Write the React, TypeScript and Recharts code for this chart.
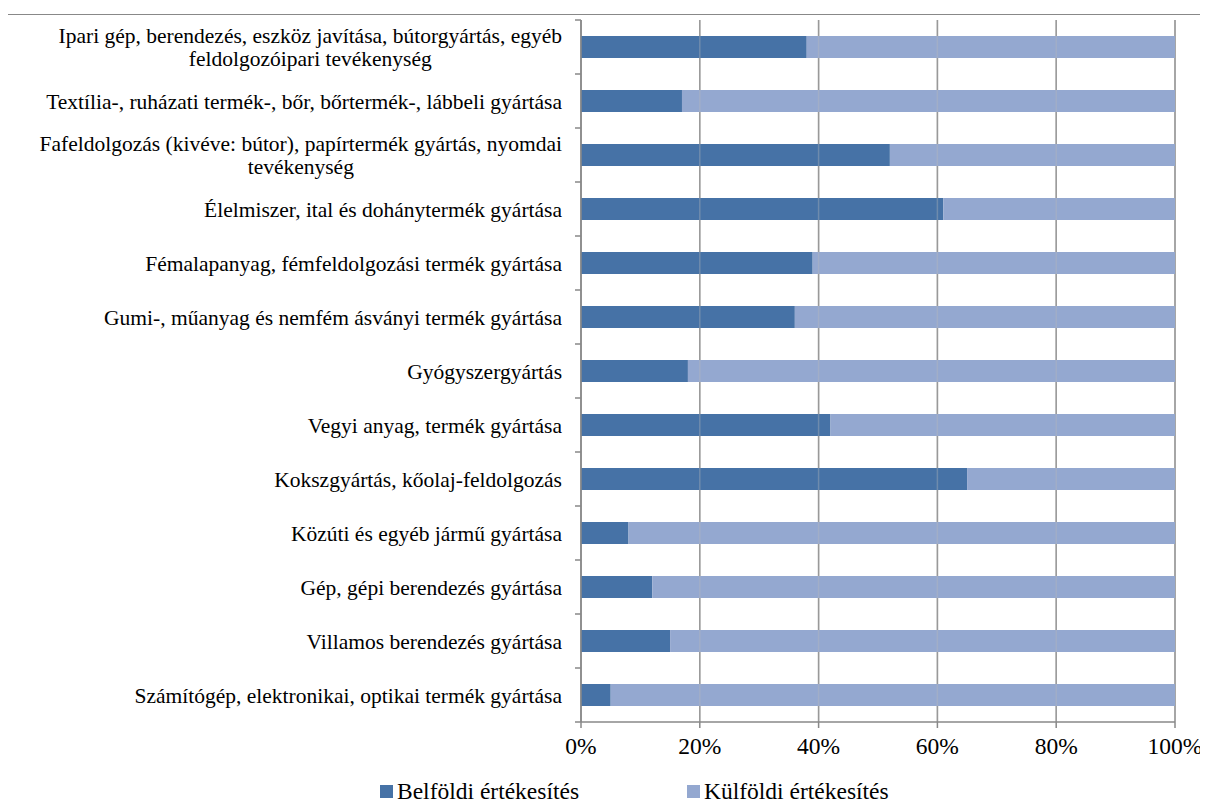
import React from 'react';
import { BarChart, Bar, XAxis, YAxis, CartesianGrid, ReferenceLine } from 'recharts';

const categories = [
  'Ipari gép, berendezés, eszköz javítása, bútorgyártás, egyéb\nfeldolgozóipari tevékenység',
  'Textília-, ruházati termék-, bőr, bőrtermék-, lábbeli gyártása',
  'Fafeldolgozás (kivéve: bútor), papírtermék gyártás, nyomdai\ntevékenység',
  'Élelmiszer, ital és dohánytermék gyártása',
  'Fémalapanyag, fémfeldolgozási termék gyártása',
  'Gumi-, műanyag és nemfém ásványi termék gyártása',
  'Gyógyszergyártás',
  'Vegyi anyag, termék gyártása',
  'Kokszgyártás, kőolaj-feldolgozás',
  'Közúti és egyéb jármű gyártása',
  'Gép, gépi berendezés gyártása',
  'Villamos berendezés gyártása',
  'Számítógép, elektronikai, optikai termék gyártása',
];

const belfoldi = [38, 17, 52, 61, 39, 36, 18, 42, 65, 8, 12, 15, 5];
const kulfoldi = [62, 83, 48, 39, 61, 64, 82, 58, 35, 92, 88, 85, 95];

const xTicks = [0, 0.2, 0.4, 0.6, 0.8, 1];

const seriesNames = ['Belföldi értékesítés', 'Külföldi értékesítés'];
const seriesColors = ['#4672A6', '#94A8D0'];

const data = categories.map((name, i) => ({ name, belfoldi: belfoldi[i], kulfoldi: kulfoldi[i] }));

const FONT = '"Liberation Serif", "Times New Roman", serif';
const LABEL_SIZE = 21.5;
const CHART_W = 1208;
const CHART_H = 811;
const TOP = 20;
const AXIS_Y = 722;
const band = (AXIS_Y - TOP) / categories.length;

let ctx: CanvasRenderingContext2D | null = null;
const measure = (s: string) => {
  if (!ctx) ctx = document.createElement('canvas').getContext('2d');
  if (!ctx) return s.length * 9;
  ctx.font = `${LABEL_SIZE}px ${FONT}`;
  return ctx.measureText(s).width;
};

const CategoryTick = (props: any) => {
  const { x, y, payload, index } = props;
  const lines: string[] = String(payload.value).split('\n');
  const right = x - 19;
  const center = right - measure(lines[0]) / 2;
  const lh = 23;
  const y0 = y - ((lines.length - 1) * lh) / 2;
  return (
    <g>
      <line x1={x - 6} x2={x} y1={y - band / 2} y2={y - band / 2} stroke="#888" strokeWidth={1.5} />
      {index === categories.length - 1 && (
        <line x1={x - 6} x2={x} y1={y + band / 2} y2={y + band / 2} stroke="#888" strokeWidth={1.5} />
      )}
      {lines.map((l, i) => (
        <text
          key={i}
          x={lines.length > 1 ? center : right}
          y={y0 + i * lh}
          dy="0.35em"
          textAnchor={lines.length > 1 ? 'middle' : 'end'}
          fontFamily={FONT}
          fontSize={LABEL_SIZE}
          fill="#000"
        >
          {l}
        </text>
      ))}
    </g>
  );
};

export default function App() {
  return (
    <div style={{ position: 'relative', margin: -8, width: CHART_W, height: CHART_H, overflow: 'hidden', background: '#fff' }}>
      <div
        style={{
          position: 'absolute',
          left: 7,
          top: 14,
          width: 1300,
          height: 900,
          border: '1px solid #888',
          boxSizing: 'border-box',
        }}
      />
      <div style={{ position: 'absolute', left: 0, top: 0 }}>
        <BarChart
          width={CHART_W}
          height={CHART_H}
          data={data}
          layout="vertical"
          stackOffset="expand"
          barSize={22}
          margin={{ top: TOP, right: 33, bottom: 0, left: 0 }}
        >
          <CartesianGrid horizontal={false} vertical stroke="#888" strokeWidth={1.5} />
          <XAxis
            type="number"
            domain={[0, 1]}
            ticks={xTicks}
            tickFormatter={(v: number) => `${Math.round(v * 100)}%`}
            height={CHART_H - AXIS_Y}
            stroke="#888"
            strokeWidth={1.5}
            tickSize={6}
            tickMargin={9}
            tick={{ fill: '#000', fontFamily: FONT, fontSize: 23.5 }}
          />
          <YAxis
            type="category"
            dataKey="name"
            width={581}
            stroke="#888"
            strokeWidth={1.5}
            tickLine={false}
            tickSize={0}
            tickMargin={0}
            interval={0}
            tick={<CategoryTick />}
          />
          <Bar dataKey="belfoldi" stackId="a" fill={seriesColors[0]} name={seriesNames[0]} isAnimationActive={false} />
          <Bar dataKey="kulfoldi" stackId="a" fill={seriesColors[1]} name={seriesNames[1]} isAnimationActive={false} />
          {xTicks.slice(1, 5).map((t) => (
            <ReferenceLine key={t} x={t} stroke="#bbb" strokeOpacity={0.35} strokeWidth={1.5} />
          ))}
        </BarChart>
      </div>
      {seriesNames.map((n, i) => (
        <div
          key={n}
          style={{
            position: 'absolute',
            top: 776,
            left: i === 0 ? 380 : 687,
            height: 30,
            display: 'flex',
            alignItems: 'center',
            whiteSpace: 'nowrap',
            fontFamily: FONT,
            fontSize: 23.5,
            color: '#000',
          }}
        >
          <span style={{ display: 'inline-block', width: 13, height: 13, background: seriesColors[i], marginRight: 4 }} />
          <span>{n}</span>
        </div>
      ))}
    </div>
  );
}
